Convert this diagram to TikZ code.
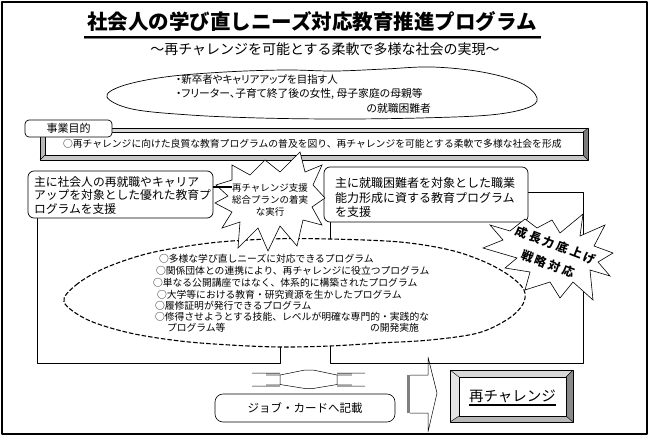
\documentclass[tikz,border=0pt]{standalone}
\usepackage{fontspec}
\setmainfont{Noto Sans CJK JP}
\newfontfamily\cjkp{Noto Sans CJK JP}[RawFeature=+palt]
\definecolor{bevL}{HTML}{D8D8D8}
\definecolor{bevM}{HTML}{B8B8B8}
\definecolor{bevD}{HTML}{7C7C7C}
\tikzset{
  fs/.style={font=\fontsize{#1}{#1}\selectfont},
  lbl/.style={inner sep=0pt, outer sep=0pt},
  roundbox/.style={draw, fill=white, rounded corners=6pt, line width=0.7pt},
  burst/.style={draw, fill=white, line width=0.6pt, line join=miter},
  thinline/.style={line width=0.7pt},
  dashline/.style={draw, fill=white, line width=1.1pt, dash pattern=on 4.5pt off 2pt},
  burstlbl/.style={lbl, rotate=-21, font=\fontsize{12}{12}\selectfont\bfseries\addfontfeature{LetterSpace=22}},
}
\begin{document}
\begin{tikzpicture}[x=1pt,y=-1pt, line join=round]
\useasboundingbox (0,0) rectangle (650,436);
\draw[line width=1.3pt] (2,2) rectangle (647,434);

% title
\node[lbl, font=\fontsize{20.5}{24}\selectfont\bfseries] (title) at (312,22) {社会人の学び直しニーズ対応教育推進プログラム};
\coordinate (ulA) at (84,37);
\coordinate (ulB) at (541,37);
\draw[gray, line width=1.4pt] ([yshift=-1.3pt]ulA) -- ([yshift=-1.3pt]ulB);
\draw[line width=1.3pt] (ulA) -- (ulB);
\node[lbl, fs=14] (sub) at (325,49) {～再チャレンジを可能とする柔軟で多様な社会の実現～};

% top ellipse
\draw[thinline, fill=white] plot[smooth cycle, tension=0.6] coordinates {
 (107,97) (122,86) (165,77) (225,72) (285,70) (335,71) (385,69) (432,67) (482,72)
 (521,83) (537,98) (527,108) (490,115) (420,118) (340,119) (260,118) (190,115) (132,109)};
\node[lbl, anchor=west, font=\cjkp\fontsize{10.5}{14}\selectfont] (t1) at (176,80) {・新卒者やキャリアアップを目指す人};
\node[lbl, anchor=west, font=\cjkp\fontsize{10.8}{14}\selectfont] (t2) at (176,94) {・フリーター、子育て終了後の女性, 母子家庭の母親等};
\node[lbl, anchor=east, font=\cjkp\fontsize{10.8}{14}\selectfont] (t3) at (431,108) {の就職困難者};

% bevel box (purpose)
\fill[bevL] (40,128) -- (588,128) -- (583,132) -- (45,132) -- cycle;
\fill[bevM] (40,128) -- (45,132) -- (45,155) -- (40,160) -- cycle;
\fill[bevD] (588,128) -- (588,160) -- (583,155) -- (583,132) -- cycle;
\fill[bevM!80] (40,160) -- (588,160) -- (583,155) -- (45,155) -- cycle;
\draw[line width=0.6pt] (40,128) rectangle (588,160);
\draw[line width=0.6pt, fill=white] (45,132) rectangle (583,155);
\draw[line width=0.4pt] (40,128) -- (45,132) (588,128) -- (583,132) (40,160) -- (45,155) (588,160) -- (583,155);
\node[lbl, anchor=west, fs=9.8] (purpose) at (63,143.5) {○再チャレンジに向けた良質な教育プログラムの普及を図り、再チャレンジを可能とする柔軟で多様な社会を形成};
\node[draw, fill=white, rounded corners=4pt, line width=0.7pt, minimum width=87pt, minimum height=17pt, inner sep=0pt, fs=11] (jigyo) at (68.5,128.5) {事業目的};

% enclosing frames
\coordinate (lrTop) at (37,218);
\coordinate (lrEnd) at (280,300);
\coordinate (rrTop) at (528,192);
\coordinate (rrEnd) at (330,222);
\draw[thinline] (lrTop) -- (37,363) -- (280,363) -- (lrEnd);
\draw[thinline] (rrTop) -- (583,192) -- (583,363) -- (330,363) -- (rrEnd);

% dashed ellipse
\draw[dashline] plot[smooth cycle, tension=0.55] coordinates {
 (64,302) (76,285) (105,268) (150,253) (210,243) (270,239) (330,239) (400,242) (450,250)
 (485,262) (510,276) (524,290) (523,304) (508,319) (478,333) (430,340) (380,343) (330,346)
 (280,347) (230,345) (180,341) (130,333) (88,320)};
\node[lbl, anchor=west, fs=9.8] (p1) at (159,259) {○多様な学び直しニーズに対応できるプログラム};
\node[lbl, anchor=west, fs=9.8] (p2) at (156,271) {○関係団体との連携により、再チャレンジに役立つプログラム};
\node[lbl, anchor=west, fs=9.8] (p3) at (153,283) {○単なる公開講座ではなく、体系的に構築されたプログラム};
\node[lbl, anchor=west, fs=9.8] (p4) at (157,295) {○大学等における教育・研究資源を生かしたプログラム};
\node[lbl, anchor=west, fs=9.8] (p5) at (155,306) {○履修証明が発行できるプログラム};
\node[lbl, anchor=west, fs=9.8] (p6) at (155,317) {○修得させようとする技能、レベルが明確な専門的・実践的な};
\node[lbl, anchor=west, fs=9.8] (p7) at (167,328) {プログラム等};
\node[lbl, anchor=west, fs=9.8] (p8) at (370,328) {の開発実施};

% boxes
\draw[roundbox] (28,171) rectangle (213,218);
\node[lbl, anchor=west, align=left, font=\fontsize{11.8}{13.5}\selectfont] (lbox) at (34,195.5) {主に社会人の再就職やキャリア\\アップを対象とした優れた教育プ\\ログラムを支援};
\draw[roundbox] (324,167) rectangle (528,222);
\node[lbl, anchor=west, align=left, font=\fontsize{12}{14.5}\selectfont] (rbox) at (335,197.5) {主に就職困難者を対象とした職業\\能力形成に資する教育プログラム\\を支援};

% middle burst
\draw[burst] (300,152) -- (305,172) -- (322,165) -- (313,185) -- (325,198) -- (312,207) -- (322,225)
 -- (303,220) -- (297,246) -- (280,226) -- (268,251) -- (258,228) -- (238,248) -- (240,222)
 -- (222,228) -- (232,212) -- (215,203) -- (228,196) -- (216,185) -- (232,180) -- (232,165)
 -- (250,175) -- (265,160) -- (280,172) -- cycle;
\node[lbl, align=center, font=\fontsize{9.5}{12}\selectfont] (mstar) at (270,200) {再チャレンジ支援\\総合プランの着実\\な実行};
\coordinate (lconn) at (213,187);
\draw[line width=1.2pt] (lconn) -- (lconn -| mstar.west);

% big burst
\draw[burst] (490,225) -- (510,231) -- (525,219) -- (537,228) -- (552,220) -- (560,233) -- (583,214)
 -- (580,236) -- (605,225) -- (594,246) -- (613,253) -- (598,262) -- (610,276) -- (590,270)
 -- (593,300) -- (573,282) -- (560,298) -- (550,282) -- (525,290) -- (530,272) -- (505,268)
 -- (517,258) -- (483,248) -- (503,240) -- cycle;
\node[burstlbl] (bstar1) at (556,245) {成長力底上げ};
\node[burstlbl] (bstar2) at (548,264) {戦略対応};

% up-down block arrow
\fill[bevM] (266,373) rectangle (280,375.5);
\fill[bevM] (337,373) rectangle (352,375.5);
\fill[bevM] (266,383.5) rectangle (280,386);
\fill[bevM] (337,383.5) rectangle (352,386);
\draw[line width=0.5pt] (252,373) -- (280,373) (337,373) -- (365,373)
 (252,386) -- (280,386) (337,386) -- (365,386)
 (280,375) -- (280,384.5) (337,375) -- (337,384.5)
 (280,375) -- (305,370) -- (313,370) -- (337,375)
 (280,384.5) -- (305,388.5) -- (313,388.5) -- (337,384.5);

% job card box
\node[draw, fill=white, rounded corners=8pt, line width=0.6pt, minimum width=180pt, minimum height=28pt, inner sep=0pt, fs=11.5] (job) at (305,408) {ジョブ・カードへ記載};

% right block arrow
\fill[gray] (407,375) rectangle (410,413);
\draw[line width=0.5pt] (410,375) -- (428,375) -- (428,357) -- (437,393) -- (428,432) -- (428,413) -- (410,413);

% button
\fill[bevL] (450,370) -- (573,370) -- (566,377) -- (459,377) -- cycle;
\fill[bevL!70] (450,370) -- (459,377) -- (459,416) -- (450,422) -- cycle;
\fill[bevD!90] (573,370) -- (573,422) -- (566,416) -- (566,377) -- cycle;
\fill[bevM] (450,422) -- (573,422) -- (566,416) -- (459,416) -- cycle;
\draw[line width=0.6pt] (450,370) rectangle (573,422);
\draw[line width=0.6pt, fill=white] (459,377) rectangle (566,416);
\draw[line width=0.4pt] (450,370) -- (459,377) (573,370) -- (566,377) (450,422) -- (459,416) (573,422) -- (566,416);
\node[lbl, fs=14.5] (retry) at (512.5,396) {再チャレンジ};
\draw[line width=1.8pt] ([yshift=-2.5pt]retry.south west) -- ([yshift=-2.5pt]retry.south east);
\end{tikzpicture}
\end{document}
